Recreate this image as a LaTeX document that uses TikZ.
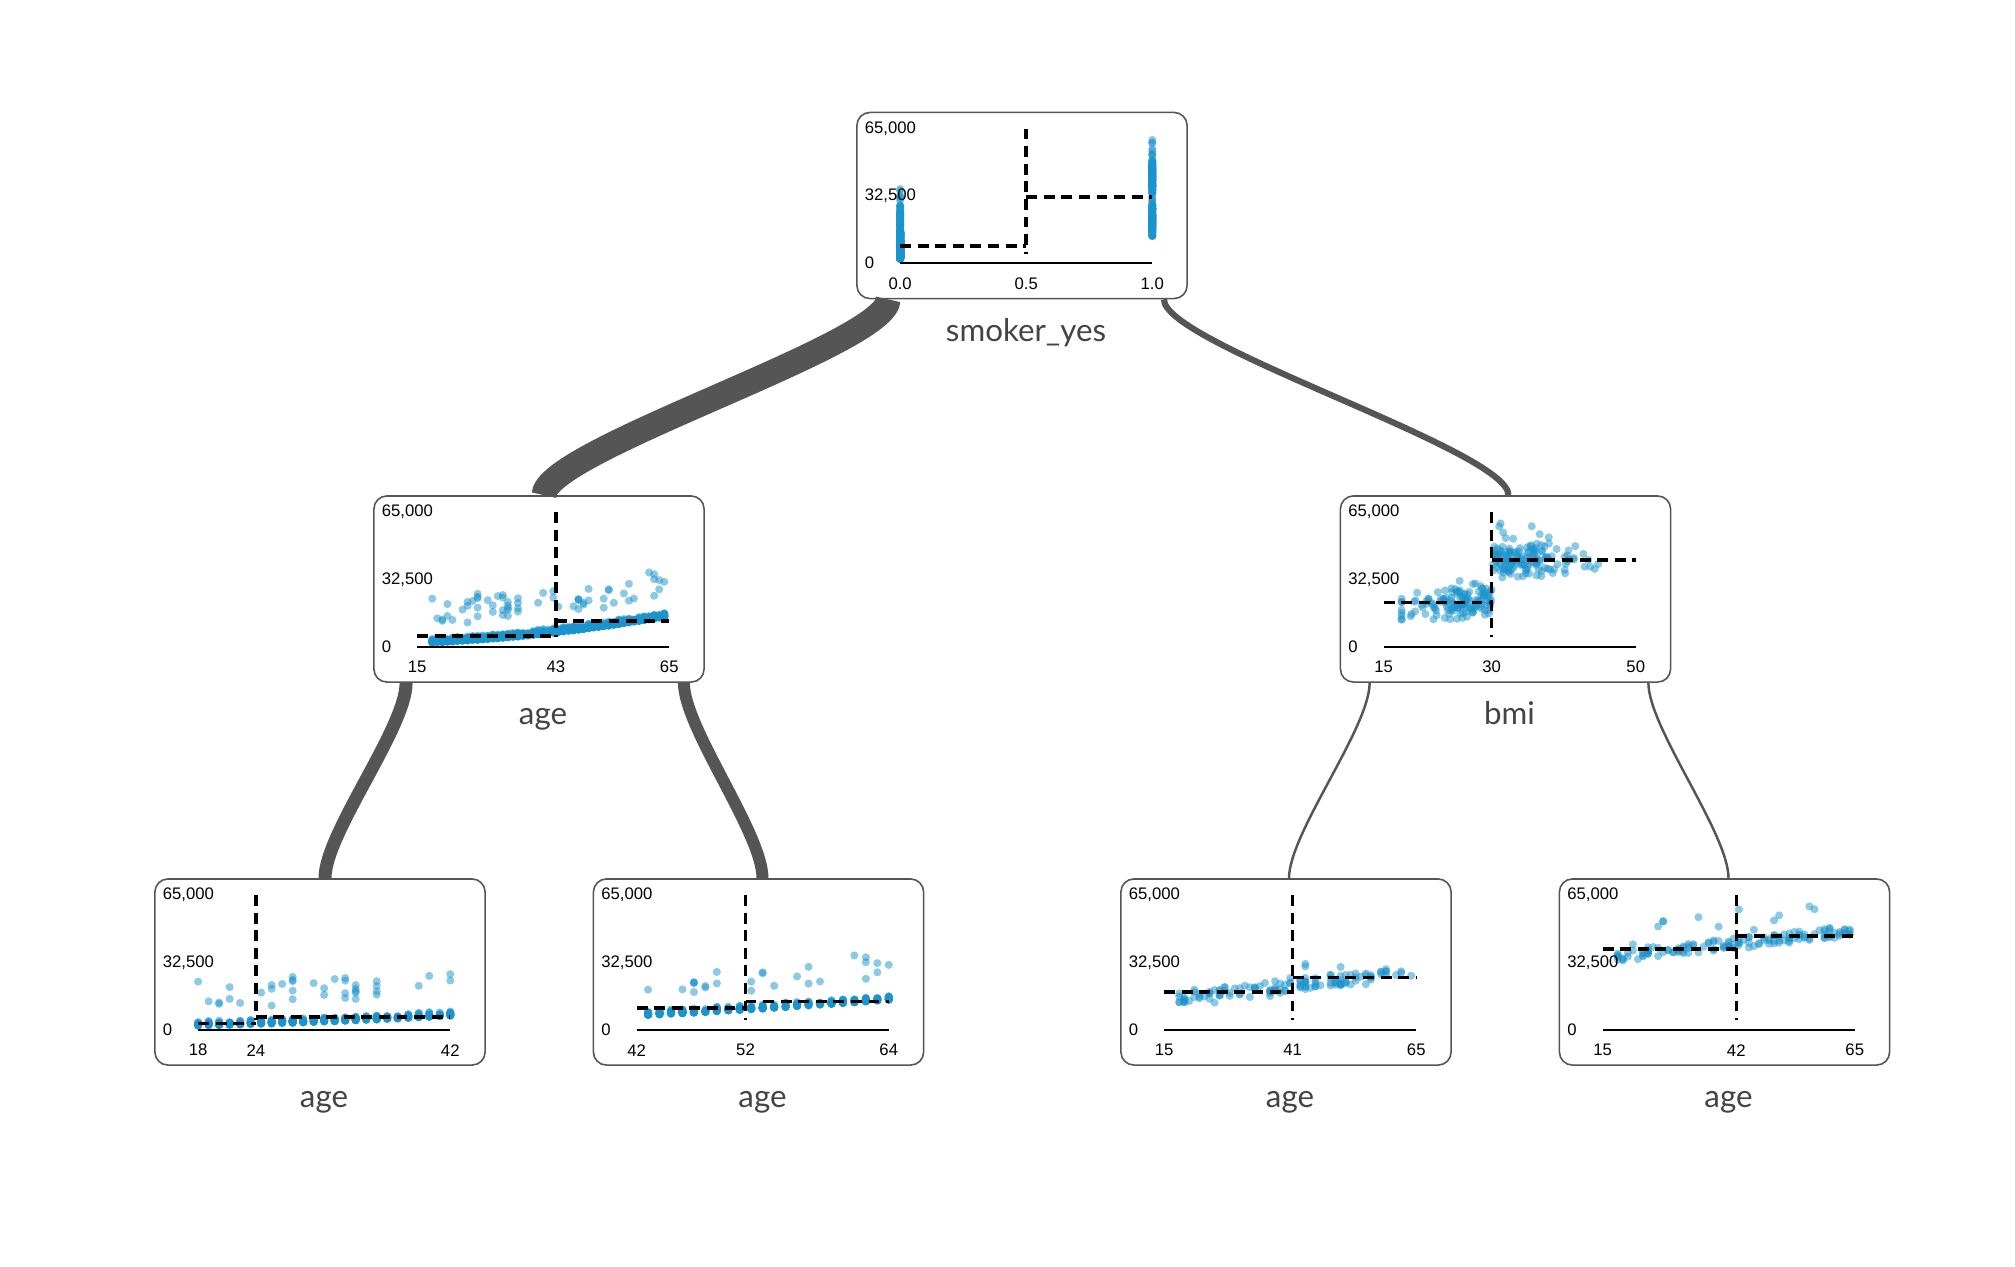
\documentclass[tikz,border=0pt]{standalone}
\usepackage{fontspec}
\usepackage{tikz}
\usetikzlibrary{calc}
\newfontfamily\tickfont{Liberation Sans}
\newfontfamily\featfont{Lato}
\definecolor{boxgray}{HTML}{555555}
\definecolor{linkgray}{HTML}{555555}
\definecolor{labgray}{HTML}{444444}
\definecolor{dotblue}{HTML}{1A94CC}

% 非吸烟者样本：\vAge, \vChg（千）
\newcommand{\nonsmk}[1]{%
  \pgfmathsetseed{1338}%
  \foreach \i in {1,...,1064}{%
    \pgfmathsetmacro\vAge{int(18+47*rnd)}%
    \pgfmathsetmacro\vChg{0.93+0.003314*\vAge*\vAge+2.4*rnd*rnd+((rnd<0.075) ? (8+14*rnd) : 0)}%
    #1%
  }}
% 吸烟者样本：\vAge, \vBmi, \vChg（千）
\newcommand{\smk}[1]{%
  \pgfmathsetseed{274}%
  \foreach \i in {1,...,274}{%
    \pgfmathsetmacro\vAge{int(18+47*rnd)}%
    \pgfmathsetmacro\vBmi{max(17.5,min(48,30.7+10.4*(rnd+rnd+rnd+rnd-2)))}%
    \pgfmathsetmacro\vChg{(\vBmi<30) ? (11.5+0.26*(\vAge-18)+0.3*(\vBmi-20)+5*rnd+((rnd<0.03) ? 8 : 0)) : (32.5+0.27*(\vAge-18)+0.1*(\vBmi-30)+5*rnd+((rnd<0.06) ? (6+10*rnd) : 0))}%
    #1%
  }}

\begin{document}
\begin{tikzpicture}[x=0.01cm, y=-0.01cm,
  panel/.style={draw=boxgray, line width=0.45pt, fill=white, rounded corners=0.13cm,
    minimum width=3.3cm, minimum height=1.86cm, inner sep=0pt},
  feat/.style={text=labgray, font={\featfont\fontsize{8.9}{11}\selectfont}, anchor=base},
  ticklbl/.style={font={\tickfont\fontsize{4.75}{5.5}\selectfont}, inner sep=0pt},
  link/.style={draw=linkgray, line width=#1},
  obs/.style={fill=dotblue, fill opacity=0.5},
  axisline/.style={line width=0.55pt},
  cutline/.style={line width=1pt, dash pattern=on 3.1pt off 1.9pt},
  plotin/.style n args={3}{shift={(#1.north west)}, shift={(44,151.5)},
    x={({2.52cm/(#3-#2)},0cm)}, y={(0cm,{1.345cm/65})}, shift={({-(#2)},0)}},
]
  \useasboundingbox (0,0) rectangle (2015,1266);

  % 节点框
  \node[panel] (root) at (1022,205.5) {};
  \node[panel] (ml) at (539,589) {};
  \node[panel] (bmi) at (1505.5,589) {};
  \node[panel] (bl) at (320,972) {};
  \node[panel] (bm) at (758.5,972) {};
  \node[panel] (bra) at (1286,972) {};
  \node[panel] (brb) at (1724.5,972) {};

  % 特征名
  \node[feat] (rootf) at ($(root.south)+(4,42)$) {smoker\_yes};
  \node[feat] (mlf) at ($(ml.south)+(4,42)$) {age};
  \node[feat] (bmif) at ($(bmi.south)+(4,42)$) {bmi};
  \node[feat] (blf) at ($(bl.south)+(4,42)$) {age};
  \node[feat] (bmf) at ($(bm.south)+(4,42)$) {age};
  \node[feat] (braf) at ($(bra.south)+(4,42)$) {age};
  \node[feat] (brbf) at ($(brb.south)+(4,42)$) {age};

  % 连线（宽度 ~ 样本数）
  \draw[link=7.1pt] ($(root.south west)+(32,0)$) .. controls +(0,45) and +(0,-45) .. ($(ml.north)+(5,0)$);
  \draw[link=1.75pt] ($(root.south east)+(-24,0)$) .. controls +(0,45) and +(0,-45) .. ($(bmi.north)+(3,0)$);
  \draw[link=3.7pt] ($(ml.south west)+(33,0)$) .. controls +(0,45) and +(0,-45) .. ($(bl.north)+(5,0)$);
  \draw[link=3.4pt] ($(ml.south east)+(-21,0)$) .. controls +(0,45) and +(0,-45) .. ($(bm.north)+(4,0)$);
  \draw[link=0.7pt] ($(bmi.south west)+(30,0)$) .. controls +(0,45) and +(0,-45) .. ($(bra.north)+(3,0)$);
  \draw[link=0.7pt] ($(bmi.south east)+(-23,0)$) .. controls +(0,45) and +(0,-45) .. ($(brb.north)+(4,0)$);

  % 散点
  \begin{scope}[plotin={root}{0}{1}]
    \nonsmk{\fill[obs] (0,\vChg) circle[radius=1.15pt];}
    \smk{\fill[obs] (1,\vChg) circle[radius=1.15pt];}
  \end{scope}
  \begin{scope}[plotin={ml}{15}{65}]
    \nonsmk{\fill[obs] (\vAge,\vChg) circle[radius=1.15pt];}
  \end{scope}
  \begin{scope}[plotin={bl}{18}{42}]
    \nonsmk{\ifdim\vAge pt<42.5pt \fill[obs] (\vAge,\vChg) circle[radius=1.15pt];\fi}
  \end{scope}
  \begin{scope}[plotin={bm}{42}{64}]
    \nonsmk{\ifdim\vAge pt>42.5pt \fill[obs] (\vAge,\vChg) circle[radius=1.15pt];\fi}
  \end{scope}
  \begin{scope}[plotin={bmi}{15}{50}]
    \smk{\fill[obs] (\vBmi,\vChg) circle[radius=1.15pt];}
  \end{scope}
  \begin{scope}[plotin={bra}{15}{65}]
    \smk{\ifdim\vBmi pt<30pt \fill[obs] (\vAge,\vChg) circle[radius=1.15pt];\fi}
  \end{scope}
  \begin{scope}[plotin={brb}{15}{65}]
    \smk{\ifdim\vBmi pt<30pt \else \fill[obs] (\vAge,\vChg) circle[radius=1.15pt];\fi}
  \end{scope}

  % 坐标轴、刻度与分割线
  \foreach \pn/\xa/\xb/\xs/\ta/\ts/\tb/\ma/\mb in {
      root/0/1/0.5/0.0/0.5/1.0/8.2/32.0,
      ml/15/65/42.5/15/43/65/5.2/12.5,
      bmi/15/50/30/15/30/50/21.4/41.9,
      bl/18/42/23.5/18/24/42/3.0/6.2,
      bm/42/64/51.5/42/52/64/10.4/13.6,
      bra/15/65/40.5/15/41/65/18.3/25.2,
      brb/15/65/41.5/15/42/65/38.9/45.3}{
    \begin{scope}[plotin={\pn}{\xa}{\xb}]
      \draw[axisline] (\xa,0) -- (\xb,0);
      \draw[cutline] (\xs,65) -- (\xs,4.5);
      \draw[cutline] (\xa,\ma) -- (\xs,\ma) (\xs,\mb) -- (\xb,\mb);
      \node[ticklbl, yshift=-0.205cm] (\pn-xa) at (\xa,0) {\ta};
      \node[ticklbl, yshift=-0.205cm] (\pn-xs) at (\xs,0) {\ts};
      \node[ticklbl, yshift=-0.205cm] (\pn-xb) at (\xb,0) {\tb};
      \node[ticklbl, anchor=west, xshift=-0.36cm] (\pn-ya) at (\xa,65) {65,000};
      \node[ticklbl, anchor=west, xshift=-0.36cm] (\pn-yb) at (\xa,32.5) {32,500};
      \node[ticklbl, anchor=west, xshift=-0.36cm] (\pn-yc) at (\xa,0) {0};
    \end{scope}
  }
\end{tikzpicture}
\end{document}
